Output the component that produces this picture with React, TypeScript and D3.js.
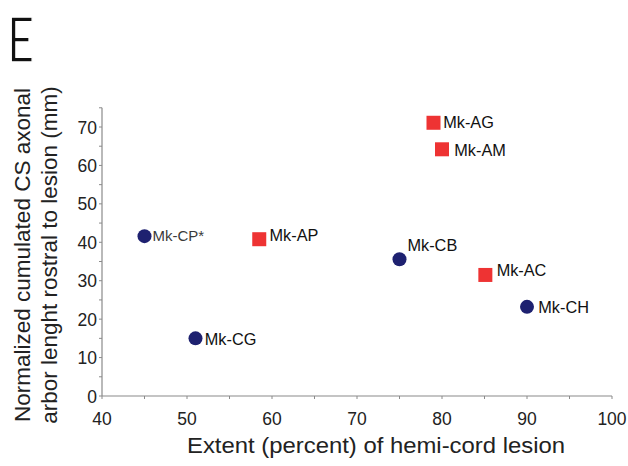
import React from "react";
import * as d3 from "d3";

const names = ["Mk-CP*", "Mk-CG", "Mk-AP", "Mk-AG", "Mk-AM", "Mk-CB", "Mk-AC", "Mk-CH"];
const extent = [45, 51, 58.5, 79, 80, 75, 85.1, 90];
const length = [41.6, 15, 40.8, 71.1, 64.2, 35.6, 31.5, 23.2];
const group = ["C", "C", "A", "A", "A", "C", "A", "C"];
const xTicks = [40, 50, 60, 70, 80, 90, 100];
const yTicks = [0, 10, 20, 30, 40, 50, 60, 70];

// label placement relative to marker centre (style only)
const labelOffset: Record<string, [number, number]> = {
  "Mk-CP*": [8, 4.5],
  "Mk-CG": [9.3, 6.5],
  "Mk-AP": [10.3, 1.4],
  "Mk-AG": [9.7, 5.5],
  "Mk-AM": [12.3, 6.7],
  "Mk-CB": [8, -8],
  "Mk-AC": [11.3, 1],
  "Mk-CH": [11.3, 6],
};

export default function App() {
  const W = 628, H = 466;
  const x = d3.scaleLinear().domain([40, 100]).range([102, 612]);
  const y = d3.scaleLinear().domain([0, 70]).range([396, 127]);
  const font = "Liberation Sans, Arial, sans-serif";
  const axisColor = "#8a8a8a";
  const minorX = d3.range(40, 100.1, 5);
  const minorY = d3.range(0, 75.1, 5);
  return (
    <svg width={W} height={H} style={{ position: "absolute", left: 0, top: 0, background: "#fff" }} fontFamily={font}>
      <text transform="translate(7,62) scale(0.76,1)" x={0} y={0} fontSize={62} fill="#111" stroke="#fff" strokeWidth={1.6} fontWeight={400} fontFamily="Lato, Liberation Sans, sans-serif">E</text>
      {/* axes */}
      <line x1={x(40)} x2={x(100)} y1={y(0)} y2={y(0)} stroke={axisColor} strokeWidth={1.2} />
      <line x1={x(40)} x2={x(40)} y1={y(0)} y2={y(75)} stroke={axisColor} strokeWidth={1.2} />
      {minorX.map((v) => (
        <line key={"mx" + v} x1={x(v)} x2={x(v)} y1={y(0)} y2={y(0) + 3} stroke={axisColor} strokeWidth={1} />
      ))}
      {minorY.map((v) => (
        <line key={"my" + v} x1={x(40) - 3} x2={x(40)} y1={y(v)} y2={y(v)} stroke={axisColor} strokeWidth={1} />
      ))}
      {xTicks.map((v) => (
        <text key={"xt" + v} x={x(v)} y={425} fontSize={17.5} textAnchor="middle" fill="#222">{v}</text>
      ))}
      {yTicks.map((v) => (
        <text key={"yt" + v} x={97} y={y(v) + 6.5} fontSize={17.5} textAnchor="end" fill="#222">{v}</text>
      ))}
      <text x={376} y={453} fontSize={22} textAnchor="middle" textLength={378} lengthAdjust="spacingAndGlyphs" fill="#222">Extent (percent) of hemi-cord lesion</text>
      <g transform="translate(0,255) rotate(-90)">
        <text x={0} y={30} fontSize={22.5} textAnchor="middle" fill="#222">Normalized cumulated CS axonal</text>
        <text x={0} y={57} fontSize={22.5} textAnchor="middle" fill="#222">arbor lenght rostral to lesion (mm)</text>
      </g>
      {names.map((n, i) => {
        const cx = x(extent[i]);
        const cy = y(length[i]);
        const isA = group[i] === "A";
        const [dx, dy] = labelOffset[n];
        const isStar = n === "Mk-CP*";
        return (
          <g key={n}>
            {isA ? (
              <rect x={cx - 7} y={cy - 7} width={14} height={14} fill="#ee3333" />
            ) : (
              <circle cx={cx} cy={cy} r={7} fill="#1e2170" />
            )}
            <text x={cx + dx} y={cy + dy} fontSize={isStar ? 15 : 16.3} fill={isStar ? "#3a3a3a" : "#111"}>{n}</text>
          </g>
        );
      })}
    </svg>
  );
}
